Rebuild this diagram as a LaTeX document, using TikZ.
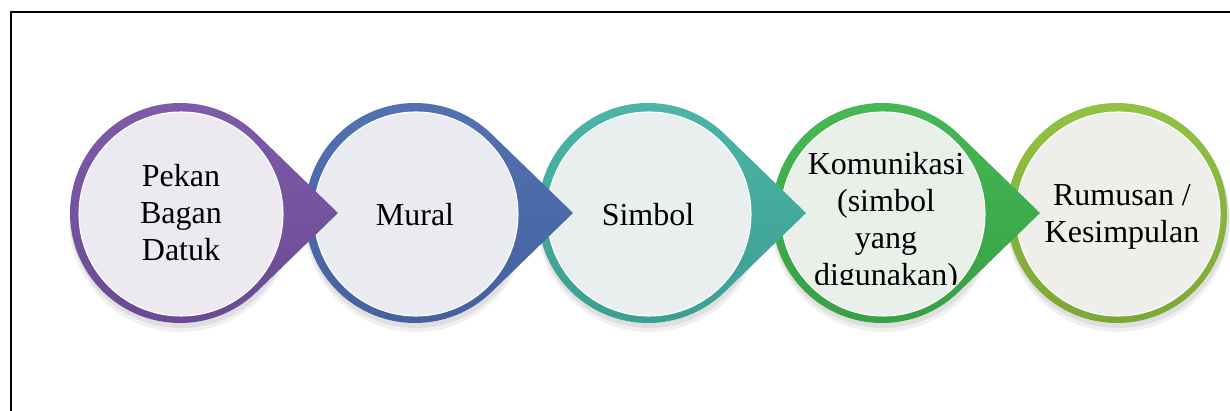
\documentclass[tikz,border=0pt]{standalone}
\usepackage{fontspec}
\setmainfont{Liberation Serif}
\usetikzlibrary{calc}
\definecolor{topA}{HTML}{7F5CA9}\definecolor{botA}{HTML}{6A4993}\definecolor{inA}{HTML}{ECEAF0}
\definecolor{topB}{HTML}{5372B3}\definecolor{botB}{HTML}{44619C}\definecolor{inB}{HTML}{EAEBF1}
\definecolor{topC}{HTML}{4CB6A8}\definecolor{botC}{HTML}{3C9D90}\definecolor{inC}{HTML}{E9EFEE}
\definecolor{topD}{HTML}{47B955}\definecolor{botD}{HTML}{369F44}\definecolor{inD}{HTML}{E9F0EA}
\definecolor{topE}{HTML}{92C243}\definecolor{botE}{HTML}{7CA736}\definecolor{inE}{HTML}{EEEFEA}
\tikzset{
  innerdisc/.style={circle,inner sep=0pt,minimum size=153pt,draw=white,line width=0.8pt},
  label/.style={align=center,font=\fontsize{24}{27.75}\selectfont,inner sep=0pt},
  frame/.style={line width=1.5pt,black}
}
\begin{document}
\begin{tikzpicture}[x=0.75pt,y=0.75pt]
\useasboundingbox (0,0) rectangle (1230,410);
\draw[frame] (11,-5) -- (11,398) -- (1240,398);
\foreach \i/\L/\cx in {5/E/1117,4/D/882,3/C/648,2/B/415,1/A/180} {
  \coordinate (c\i) at (\cx,197);
  \fill[black,opacity=0.06] ($(c\i)+(1,-7)$) circle[radius=112];
  \fill[black,opacity=0.07] ($(c\i)+(1,-4)$) circle[radius=111];
  \ifnum\i<5
    \shade[top color=top\L,bottom color=bot\L] ($(c\i)+(158,0)$) -- ($(c\i)+(46:110)$) arc[start angle=46,end angle=314,radius=110] -- cycle;
  \else
    \shade[top color=top\L,bottom color=bot\L] (c\i) circle[radius=110];
  \fi
  \node[innerdisc,fill=in\L] (n\i) at ($(c\i)+(1,-1)$) {};
}
\node[label] (t1) at (181,197) {Pekan\\Bagan\\Datuk};
\node[label] (t2) at (415,195.5) {Mural};
\node[label] (t3) at (648,195.5) {Simbol};
\begin{scope}
  \clip (770,125) rectangle (1000,300);
  \node[label] (t4) at (886,187.6) {Komunikasi\\(simbol\\yang\\digunakan)};
\end{scope}
\node[label] (t5) at (1122,193.5) {Rumusan /\\Kesimpulan};
\end{tikzpicture}
\end{document}
